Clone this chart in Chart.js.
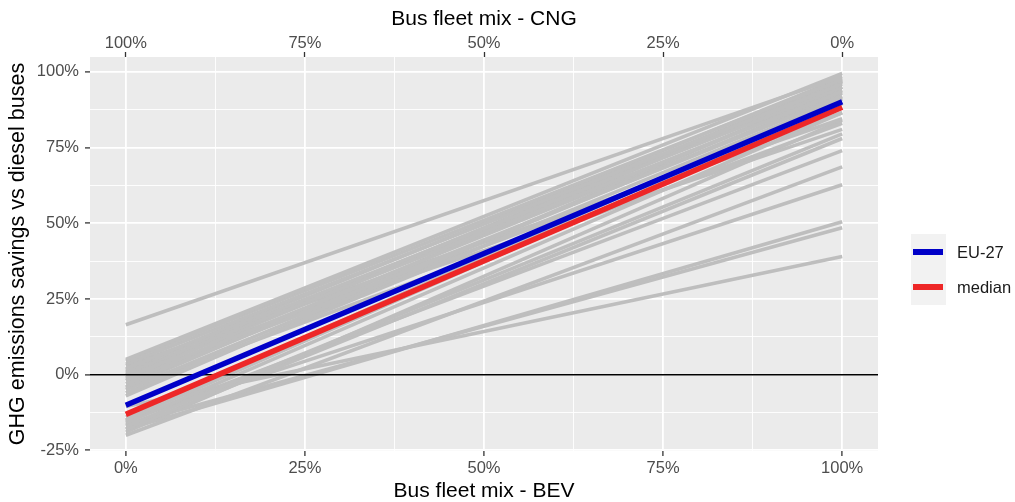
<!DOCTYPE html>
<html><head><meta charset="utf-8">
<script src="https://cdn.jsdelivr.net/npm/chart.js@4.4.1/dist/chart.umd.min.js"></script>
<style>html,body{margin:0;padding:0;background:#fff;}#wrap{width:1015px;height:502px;position:relative;}</style>
</head><body><div id="wrap"><canvas id="c" width="1015" height="502"></canvas></div>
<script>
// ---- data ----
const xValues = [0, 100];                 // BEV share (%) at both ends of each line
const grayStart = [16.5, 5, 4.5, 3.5, 2, 1.5, 0.5, -1, -2, -3, -4, -5, -6, -7, -1.5, 3, -4.5, 1, -14, -15, -16, -17, -18, -15.5, -20, -15, -18, -16.5, -10.5, -19, 0];
const grayEnd   = [98.5, 99.5, 97.5, 96, 98, 95, 93.5, 96.5, 94, 92, 97, 93, 91, 95, 86.5, 84.5, 83, 81, 91.5, 89.5, 86.5, 79.5, 78, 74, 68.6, 62.7, 50.5, 48.5, 39, 84, 97];
const eu27   = [-10.1, 90.1];
const median = [-13.1, 88.3];
const xLimits = [-5, 105];
const zeroLine = [0, 0];
const xMajorTicks = [0, 25, 50, 75, 100];
const xMinorTicks = [12.5, 37.5, 62.5, 87.5];
const yMajorTicks = [-25, 0, 25, 50, 75, 100];
const yMinorTicks = [-12.5, 12.5, 37.5, 62.5, 87.5];
const seriesNames = ['EU-27', 'median'];
const seriesColors = ['#0000C8', '#EE2727'];

const FONT = "'Liberation Sans', Arial, sans-serif";
const toPts = (ys, xs) => xs.map((x, i) => ({x: x, y: ys[i]}));

const datasets = [];
datasets.push({label: seriesNames[0], data: toPts(eu27, xValues), borderColor: seriesColors[0], backgroundColor: seriesColors[0], borderWidth: 5.5, pointRadius: 0, order: 0});
datasets.push({label: seriesNames[1], data: toPts(median, xValues), borderColor: seriesColors[1], backgroundColor: seriesColors[1], borderWidth: 5.5, pointRadius: 0, order: 1});
datasets.push({label: '', data: toPts(zeroLine, xLimits), borderColor: '#000', borderWidth: 1.6, pointRadius: 0, order: 2});
grayStart.forEach((s, i) => {
  datasets.push({label: '', data: toPts([s, grayEnd[i]], xValues), borderColor: '#BEBEBE', borderWidth: 3.6, pointRadius: 0, order: 3});
});

const isMajor = (arr, v) => arr.some(t => Math.abs(t - v) < 1e-6);
const tickObjs = (arr) => arr.slice().sort((a, b) => a - b).map(v => ({value: v}));

const panelBg = {
  id: 'panelBg',
  beforeDraw(chart) {
    const a = chart.chartArea, ctx = chart.ctx;
    ctx.save(); ctx.fillStyle = '#EBEBEB';
    ctx.fillRect(a.left, a.top, a.right - a.left, a.bottom - a.top);
    ctx.restore();
  }
};
const ggLegend = {
  id: 'ggLegend',
  afterDraw(chart) {
    const ctx = chart.ctx;
    ctx.save();
    ctx.fillStyle = '#F2F2F2';
    ctx.fillRect(911, 234, 35, 71);
    seriesNames.forEach((name, i) => {
      const cy = 252 + i * 35;
      ctx.fillStyle = seriesColors[i];
      ctx.fillRect(913, cy - 3, 30, 6);
      ctx.fillStyle = '#1A1A1A';
      ctx.font = '16.5px ' + FONT;
      ctx.textBaseline = 'middle';
      ctx.textAlign = 'left';
      ctx.fillText(name, 957, cy + 1);
    });
    ctx.restore();
  }
};

new Chart(document.getElementById('c'), {
  type: 'line',
  data: {datasets: datasets},
  plugins: [panelBg, ggLegend],
  options: {
    responsive: false, animation: false, devicePixelRatio: 1,
    layout: {padding: {left: 0, right: 137, top: 0, bottom: 0}},
    plugins: {legend: {display: false}, tooltip: {enabled: false}},
    elements: {line: {tension: 0, borderCapStyle: 'butt'}},
    scales: {
      x: {
        type: 'linear', position: 'bottom', min: xLimits[0], max: xLimits[1],
        afterBuildTicks: s => { s.ticks = tickObjs(xMajorTicks.concat(xMinorTicks)); },
        afterFit: s => { s.height = 51; },
        border: {display: false},
        grid: {
          color: '#FFFFFF',
          lineWidth: c => isMajor(xMajorTicks, c.tick.value) ? 1.8 : 0.9,
          tickColor: c => isMajor(xMajorTicks, c.tick.value) ? '#333333' : 'rgba(0,0,0,0)',
          tickLength: 5, tickWidth: 1.3
        },
        ticks: {
          autoSkip: false, maxRotation: 0, padding: 3, color: '#4D4D4D',
          font: {family: FONT, size: 16.5},
          callback: v => isMajor(xMajorTicks, v) ? v + '%' : ''
        },
        title: {display: true, text: 'Bus fleet mix - BEV', color: '#000', font: {family: FONT, size: 21, lineHeight: 1}, padding: {top: 0.5, bottom: 0}}
      },
      x2: {
        type: 'linear', position: 'top', min: xLimits[0], max: xLimits[1],
        afterBuildTicks: s => { s.ticks = tickObjs(xMajorTicks); },
        afterFit: s => { s.height = 57; },
        border: {display: false},
        grid: {drawOnChartArea: false, tickColor: '#333333', tickLength: 5, tickWidth: 1.3},
        ticks: {
          autoSkip: false, maxRotation: 0, padding: -1, color: '#4D4D4D',
          font: {family: FONT, size: 16.5},
          callback: v => (100 - v) + '%'
        },
        title: {display: true, text: 'Bus fleet mix - CNG', color: '#000', font: {family: FONT, size: 21, lineHeight: 1.2}, padding: {top: 7, bottom: 0}}
      },
      y: {
        type: 'linear', position: 'left', min: -25.2, max: 104.9,
        afterBuildTicks: s => { s.ticks = tickObjs(yMajorTicks.concat(yMinorTicks)); },
        afterFit: s => { s.width = 90; },
        border: {display: false},
        grid: {
          color: '#FFFFFF',
          lineWidth: c => isMajor(yMajorTicks, c.tick.value) ? 1.8 : 0.9,
          tickColor: c => isMajor(yMajorTicks, c.tick.value) ? '#333333' : 'rgba(0,0,0,0)',
          tickLength: 5, tickWidth: 1.3
        },
        ticks: {
          autoSkip: false, padding: 6, color: '#4D4D4D',
          font: {family: FONT, size: 16.5},
          callback: v => isMajor(yMajorTicks, v) ? v + '%' : ''
        },
        title: {display: true, text: 'GHG emissions savings vs diesel buses', color: '#000', font: {family: FONT, size: 21.5, lineHeight: 1.2}, padding: {top: 5, bottom: 0}}
      }
    }
  }
});
</script></body></html>
